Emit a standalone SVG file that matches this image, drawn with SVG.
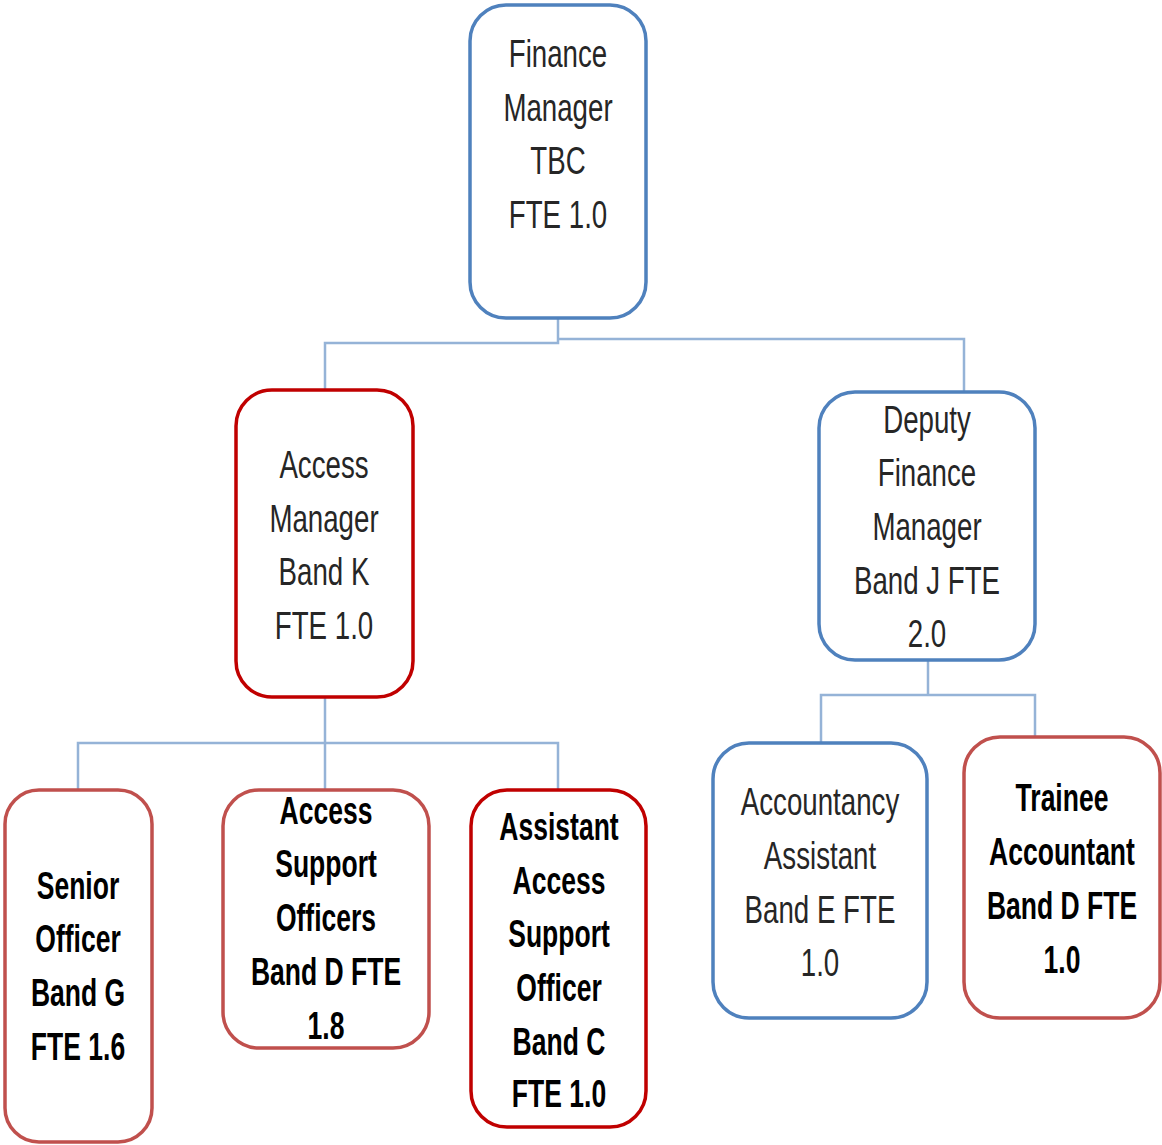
<svg xmlns="http://www.w3.org/2000/svg" width="1162" height="1145" viewBox="0 0 1162 1145">
  <style>
    .box { fill: #ffffff; stroke-width: 3.5; }
    .blue { stroke: #4f81bd; }
    .red { stroke: #c00000; }
    .rose { stroke: #c0504d; }
    .wire { fill: none; stroke: #95b3d7; stroke-width: 2.5; }
    text { font-family: "Liberation Sans", Arial, sans-serif; font-size: 39px; text-anchor: middle; }
    .n { fill: #262626; }
    .b { fill: #000000; font-weight: bold; }
  </style>
  <rect width="1162" height="1145" fill="#ffffff"/>

  <!-- reporting lines -->
  <g id="connectors">
    <path class="wire" d="M558 318 V343 H325 V390"/>
    <path class="wire" d="M558 339 H964 V392"/>
    <path class="wire" d="M325 697 V743"/>
    <path class="wire" d="M78 790 V743 H558 V790"/>
    <path class="wire" d="M325 743 V790"/>
    <path class="wire" d="M928 660 V695"/>
    <path class="wire" d="M821 743 V695 H1035 V737"/>
  </g>

  <g id="finance-manager">
    <rect class="box blue" x="470" y="5" width="176" height="313" rx="36"/>
    <g transform="translate(558,0) scale(0.71,1)">
      <text class="n" x="0" y="67">Finance</text>
      <text class="n" x="0" y="121">Manager</text>
      <text class="n" x="0" y="174">TBC</text>
      <text class="n" x="0" y="228">FTE 1.0</text>
    </g>
  </g>

  <g id="access-manager">
    <rect class="box red" x="236" y="390" width="177" height="307" rx="36"/>
    <g transform="translate(324,0) scale(0.71,1)">
      <text class="n" x="0" y="478">Access</text>
      <text class="n" x="0" y="532">Manager</text>
      <text class="n" x="0" y="585">Band K</text>
      <text class="n" x="0" y="639">FTE 1.0</text>
    </g>
  </g>

  <g id="deputy-finance-manager">
    <rect class="box blue" x="819" y="392" width="216" height="268" rx="36"/>
    <g transform="translate(927,0) scale(0.71,1)">
      <text class="n" x="0" y="433">Deputy</text>
      <text class="n" x="0" y="486">Finance</text>
      <text class="n" x="0" y="540">Manager</text>
      <text class="n" x="0" y="594">Band J FTE</text>
      <text class="n" x="0" y="647">2.0</text>
    </g>
  </g>

  <g id="senior-officer">
    <rect class="box rose" x="5" y="790" width="147" height="352" rx="34"/>
    <g transform="translate(78,0) scale(0.68,1)">
      <text class="b" x="0" y="899">Senior</text>
      <text class="b" x="0" y="952">Officer</text>
      <text class="b" x="0" y="1006">Band G</text>
      <text class="b" x="0" y="1060">FTE 1.6</text>
    </g>
  </g>

  <g id="access-support-officers">
    <rect class="box rose" x="223" y="790" width="206" height="258" rx="36"/>
    <g transform="translate(326,0) scale(0.68,1)">
      <text class="b" x="0" y="824">Access</text>
      <text class="b" x="0" y="877">Support</text>
      <text class="b" x="0" y="931">Officers</text>
      <text class="b" x="0" y="985">Band D FTE</text>
      <text class="b" x="0" y="1039">1.8</text>
    </g>
  </g>

  <g id="assistant-access-support-officer">
    <rect class="box red" x="471" y="790" width="175" height="337" rx="36"/>
    <g transform="translate(559,0) scale(0.68,1)">
      <text class="b" x="0" y="840">Assistant</text>
      <text class="b" x="0" y="894">Access</text>
      <text class="b" x="0" y="947">Support</text>
      <text class="b" x="0" y="1001">Officer</text>
      <text class="b" x="0" y="1055">Band C</text>
      <text class="b" x="0" y="1107">FTE 1.0</text>
    </g>
  </g>

  <g id="accountancy-assistant">
    <rect class="box blue" x="713" y="743" width="214" height="275" rx="36"/>
    <g transform="translate(820,0) scale(0.71,1)">
      <text class="n" x="0" y="815">Accountancy</text>
      <text class="n" x="0" y="869">Assistant</text>
      <text class="n" x="0" y="923">Band E FTE</text>
      <text class="n" x="0" y="976">1.0</text>
    </g>
  </g>

  <g id="trainee-accountant">
    <rect class="box rose" x="964" y="737" width="196" height="281" rx="36"/>
    <g transform="translate(1062,0) scale(0.68,1)">
      <text class="b" x="0" y="811">Trainee</text>
      <text class="b" x="0" y="865">Accountant</text>
      <text class="b" x="0" y="919">Band D FTE</text>
      <text class="b" x="0" y="973">1.0</text>
    </g>
  </g>
</svg>
